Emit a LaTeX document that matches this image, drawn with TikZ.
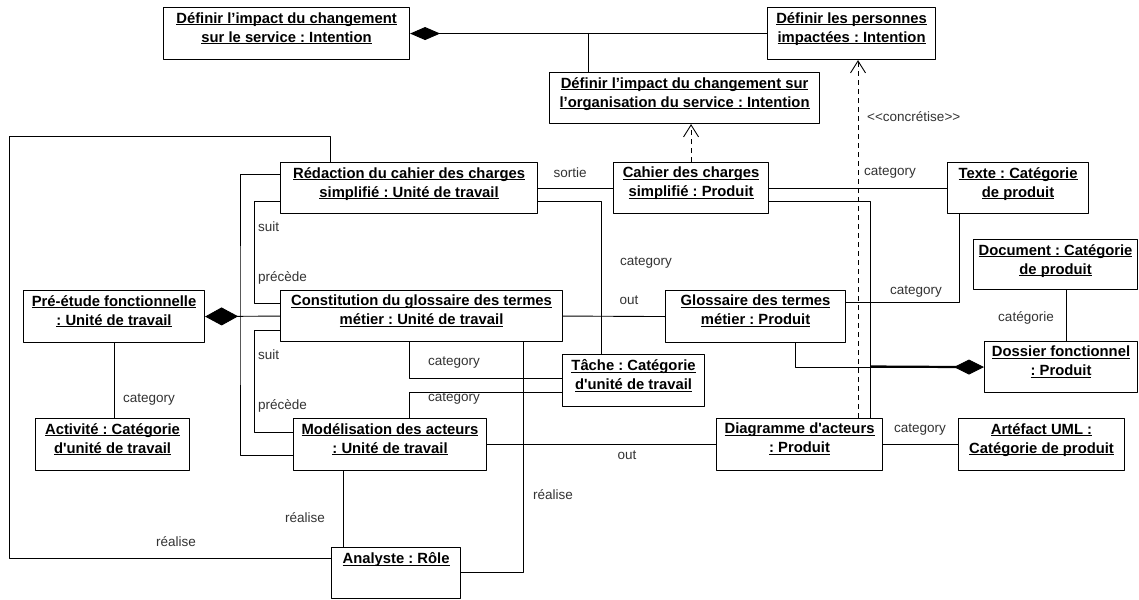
\documentclass[tikz,border=0pt]{standalone}
\usepackage{fontspec}
\setmainfont{Liberation Sans}
\usetikzlibrary{arrows.meta}
\frenchspacing
\newcommand{\objfont}{\fontsize{14.8}{19}\selectfont\bfseries}
\newcommand{\lblfont}{\fontsize{13.5}{16}\selectfont}
\newcommand{\objul}[1]{\setbox0=\hbox{#1}\rlap{\rule[-2.3pt]{\wd0}{0.9pt}}\box0}
\tikzset{
  obj/.style={draw, line width=1.1pt, anchor=north west, inner sep=0pt, minimum height=51pt, label={[objtext]north:{#1}}},
  objtext/.style={anchor=north, inner sep=0pt, yshift=-5pt, align=center, font=\objfont},
  lbl/.style={font=\lblfont, text=black!80, inner sep=0pt},
  link/.style={line width=0.9pt},
  dep/.style={link, dash pattern=on 5pt off 4pt, -{Straight Barb[length=12pt, width=15pt]}},
  owns/.style={link, -{Diamond[length=30pt, width=15pt]}},
}
\begin{document}
\begin{tikzpicture}[x=1pt, y=-1pt, line join=round]
  \useasboundingbox[fill=white] (0,0) rectangle (1139,599);
  % intentions
  \node[obj={\objul{Définir l’impact du changement}\\\objul{sur le service : Intention}}, minimum width=246pt, minimum height=52pt] (serv) at (163,7) {};
  \node[obj={\objul{Définir les personnes}\\\objul{impactées : Intention}}, minimum width=168pt, minimum height=52pt] (pers) at (767,7) {};
  \node[obj={\objul{Définir l’impact du changement sur}\\\objul{l’organisation du service : Intention}}, minimum width=270pt] (org) at (549,72) {};
  % work units and products
  \node[obj={\objul{Rédaction du cahier des charges}\\\objul{simplifié : Unité de travail}}, minimum width=257pt] (redac) at (280,162) {};
  \node[obj={\objul{Cahier des charges}\\\objul{simplifié : Produit}}, minimum width=155pt] (cahier) at (613,162) {};
  \node[obj={\objul{Texte : Catégorie}\\\objul{de produit}}, minimum width=141pt] (texte) at (947,162) {};
  \node[obj={\objul{Document : Catégorie}\\\objul{de produit}}, minimum width=164pt, minimum height=50pt] (doc) at (973,239) {};
  \node[obj={\objul{Pré-étude fonctionnelle}\\\objul{: Unité de travail}}, minimum width=181pt, minimum height=52pt] (pre) at (23,290) {};
  \node[obj={\objul{Constitution du glossaire des termes}\\\objul{métier : Unité de travail}}, minimum width=282pt] (const) at (280,290) {};
  \node[obj={\objul{Glossaire des termes}\\\objul{métier : Produit}}, minimum width=180pt, minimum height=52pt] (gloss) at (665,290) {};
  \node[obj={\objul{Tâche : Catégorie}\\\objul{d\textquotesingle unité de travail}}, minimum width=142pt, minimum height=52pt] (tache) at (562,354) {};
  \node[obj={\objul{Dossier fonctionnel}\\\objul{: Produit}}, minimum width=153pt] (dossier) at (984,341) {};
  \node[obj={\objul{Activité : Catégorie}\\\objul{d\textquotesingle unité de travail}}, minimum width=154pt, minimum height=52pt] (activ) at (35,418) {};
  \node[obj={\objul{Modélisation des acteurs}\\\objul{: Unité de travail}}, minimum width=193pt, minimum height=52pt] (model) at (293,418) {};
  \node[obj={\objul{Diagramme d\textquotesingle acteurs}\\\objul{: Produit}}, minimum width=166pt, minimum height=52pt] (diag) at (716,418) {};
  \node[obj={\objul{Artéfact UML :}\\\objul{Catégorie de produit}}, minimum width=166pt, minimum height=52pt] (artef) at (958,418) {};
  \node[obj={\objul{Analyste : Rôle}}, minimum width=129pt] (analyste) at (331,547) {};

  % composition of intentions
  \coordinate (jtop) at (588,33);
  \draw[owns, -{Diamond[length=30pt, width=13pt]}] (pers.west) -- (serv.east);
  \draw[link] (jtop) -- (org.north -| jtop);
  \draw[dep] (cahier.north) -- (cahier.north |- org.south);
  \draw[dep] (diag.north -| 858,0) -- (pers.south -| 858,0);

  % outputs and categories
  \draw[link] (redac.east) -- (cahier.west);
  \draw[link] (redac.east |- 0,201) -| (tache.north -| 601,0);
  \draw[link] (cahier.east) -- (texte.west);
  \draw[link] (cahier.east |- 0,201) -| (diag.north -| 870,0);
  \draw[link] (texte.south -| 959,0) |- (gloss.east |- 0,302);
  \draw[link] (doc.south -| 1066,0) -- (dossier.north -| 1066,0);
  \draw[owns] (gloss.south -| 795,0) |- (dossier.west);
  \coordinate (jdos) at (870,366.5);
  \draw[line width=2.2pt] (jdos) -- ([xshift=-20pt]dossier.west);
  \draw[link] (const.east) -- (gloss.west);
  \draw[link] (const.south -| 409,0) |- (tache.west |- 0,378);
  \draw[link] (model.north -| 409,0) |- (tache.west |- 0,392);
  \draw[link] (model.east) -- (diag.west);
  \draw[link] (diag.east) -- (artef.west);
  \draw[link] (pre.south) -- (pre.south |- activ.north);

  % roles
  \coordinate (loop) at (9,136);
  \draw[link] (const.south -| 523,0) |- (analyste.east |- 0,572);
  \draw[link] (model.south -| 343,0) -- (analyste.north -| 343,0);
  \draw[link] (analyste.west |- 0,558) -| (loop) -| (redac.north -| 330,0);

  % work breakdown of the pre-study
  \draw[owns, -{Diamond[length=33pt, width=18pt]}] (const.west) -- (pre.east);
  \draw[link] (redac.west |- 0,174) -| (240,316) |- (model.west |- 0,455);
  \draw[link] (redac.west |- 0,201) -- ++(-26,0) |- (const.west |- 0,303);
  \draw[link] (const.west |- 0,330) -- ++(-26,0) |- (model.west |- 0,432);

  % role names
  \foreach \name/\pos/\txt in {sortie/{570,173}/sortie, cat1/{646,263}/category, cat2/{890,173}/category,
      cat3/{916,292}/category, cat4/{1026,318}/catégorie, out1/{629,300}/out, cat5/{454,363}/category,
      cat6/{454,399}/category, real1/{553,495}/réalise, real2/{305,518}/réalise, real3/{176,542}/réalise,
      out2/{627,455}/out, cat7/{920,430}/category, cat8/{149,400}/category}{
    \node[lbl] (l-\name) at (\pos) {\txt};
  }
  \foreach \name/\pos/\txt in {suit1/{258,227}/suit, prec1/{258,278}/précède, suit2/{258,355}/suit,
      prec2/{258,406}/précède, concr/{867,117}/{<\kern0pt<concrétise>\kern0pt>}}{
    \node[lbl, anchor=west] (l-\name) at (\pos) {\txt};
  }
\end{tikzpicture}
\end{document}
